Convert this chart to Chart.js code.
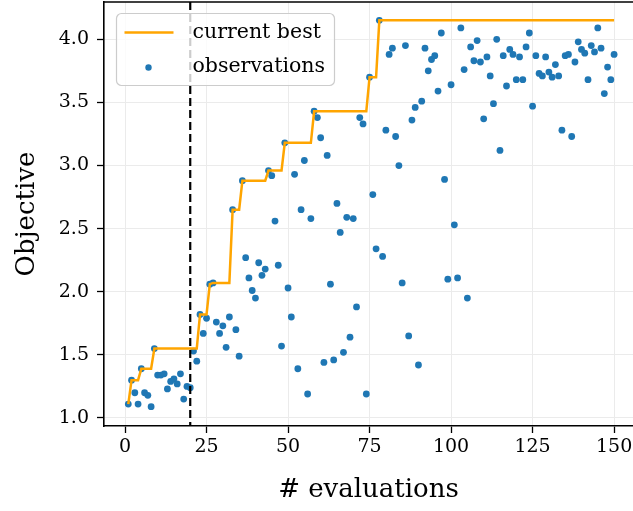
<!DOCTYPE html>
<html>
<head>
<meta charset="utf-8">
<script src="https://cdn.jsdelivr.net/npm/chart.js@4.4.0/dist/chart.umd.min.js"></script>
<style>
html,body{margin:0;padding:0;background:#fff;overflow:hidden}
#wrap{width:633px;height:511px;position:relative}
</style>
</head>
<body>
<div id="wrap"><canvas id="c" width="633" height="511"></canvas></div>
<script>
// ---------------- data ----------------
const evaluations = [
  1,2,3,4,5,6,7,8,9,10,11,12,13,14,15,16,17,18,19,20,
  21,22,23,24,25,26,27,28,29,30,31,32,33,34,35,36,37,38,39,40,
  41,42,43,44,45,46,47,48,49,50,51,52,53,54,55,56,57,58,59,60,
  61,62,63,64,65,66,67,68,69,70,71,72,73,74,75,76,77,78,79,80,
  81,82,83,84,85,86,87,88,89,90,91,92,93,94,95,96,97,98,99,100,
  101,102,103,104,105,106,107,108,109,110,111,112,113,114,115,116,117,118,119,120,
  121,122,123,124,125,126,127,128,129,130,131,132,133,134,135,136,137,138,139,140,
  141,142,143,144,145,146,147,148,149,150
];
const observations = [
  1.11,1.30,1.20,1.11,1.39,1.20,1.18,1.09,1.55,1.34,
  1.34,1.35,1.23,1.29,1.31,1.27,1.35,1.15,1.25,1.24,
  1.53,1.45,1.82,1.67,1.79,2.06,2.07,1.76,1.67,1.73,
  1.56,1.80,2.65,1.70,1.49,2.88,2.27,2.11,2.01,1.95,
  2.23,2.13,2.18,2.96,2.92,2.56,2.21,1.57,3.18,2.03,
  1.80,2.93,1.39,2.65,3.04,1.19,2.58,3.43,3.38,3.22,
  1.44,3.08,2.06,1.46,2.70,2.47,1.52,2.59,1.64,2.58,
  1.88,3.38,3.33,1.19,3.70,2.77,2.34,4.15,2.28,3.28,
  3.88,3.93,3.23,3.00,2.07,3.95,1.65,3.36,3.46,1.42,
  3.51,3.93,3.75,3.84,3.87,3.59,4.05,2.89,2.10,3.64,
  2.53,2.11,4.09,3.76,1.95,3.94,3.83,3.99,3.82,3.37,
  3.86,3.71,3.49,4.00,3.12,3.87,3.63,3.92,3.88,3.68,
  3.86,3.68,3.94,4.05,3.47,3.87,3.73,3.71,3.86,3.74,
  3.70,3.80,3.71,3.28,3.87,3.88,3.23,3.82,3.98,3.92,
  3.89,3.68,3.95,3.90,4.09,3.93,3.57,3.78,3.68,3.88
];
const currentBest = [
  1.11,1.30,1.30,1.30,1.39,1.39,1.39,1.39,1.55,1.55,
  1.55,1.55,1.55,1.55,1.55,1.55,1.55,1.55,1.55,1.55,
  1.55,1.55,1.82,1.82,1.82,2.06,2.07,2.07,2.07,2.07,
  2.07,2.07,2.65,2.65,2.65,2.88,2.88,2.88,2.88,2.88,
  2.88,2.88,2.88,2.96,2.96,2.96,2.96,2.96,3.18,3.18,
  3.18,3.18,3.18,3.18,3.18,3.18,3.18,3.43,3.43,3.43,
  3.43,3.43,3.43,3.43,3.43,3.43,3.43,3.43,3.43,3.43,
  3.43,3.43,3.43,3.43,3.70,3.70,3.70,4.15,4.15,4.15,
  4.15,4.15,4.15,4.15,4.15,4.15,4.15,4.15,4.15,4.15,
  4.15,4.15,4.15,4.15,4.15,4.15,4.15,4.15,4.15,4.15,
  4.15,4.15,4.15,4.15,4.15,4.15,4.15,4.15,4.15,4.15,
  4.15,4.15,4.15,4.15,4.15,4.15,4.15,4.15,4.15,4.15,
  4.15,4.15,4.15,4.15,4.15,4.15,4.15,4.15,4.15,4.15,
  4.15,4.15,4.15,4.15,4.15,4.15,4.15,4.15,4.15,4.15,
  4.15,4.15,4.15,4.15,4.15,4.15,4.15,4.15,4.15,4.15
];
const xTicks = [0, 25, 50, 75, 100, 125, 150];
const yTicks = [1.0, 1.5, 2.0, 2.5, 3.0, 3.5, 4.0];
const initialDesignEnd = 20;
const seriesNames = ['current best', 'observations'];
const xTitle = '# evaluations';
const yTitle = 'Objective';

// ---------------- styling ----------------
const FONT = '"DejaVu Serif", "Liberation Serif", serif';
const ORANGE = '#FFA500';
const BLUE = '#1f77b4';

const bestPts = evaluations.map((e, i) => ({x: e, y: currentBest[i]}));
const obsPts = evaluations.map((e, i) => ({x: e, y: observations[i]}));

const framePlugin = {
  id: 'frameAndExtras',
  afterDatasetsDraw(chart) {
    const {ctx, chartArea: a, scales} = chart;
    ctx.save();
    // dashed vertical line marking end of initial design
    const xv = scales.x.getPixelForValue(initialDesignEnd);
    ctx.beginPath();
    ctx.setLineDash([8, 4]);
    ctx.strokeStyle = '#000';
    ctx.lineWidth = 2.2;
    ctx.moveTo(xv, a.top);
    ctx.lineTo(xv, a.bottom);
    ctx.stroke();
    ctx.setLineDash([]);
    // top frame
    ctx.beginPath();
    ctx.lineWidth = 1.6;
    ctx.moveTo(a.left, a.top);
    ctx.lineTo(a.right, a.top);
    ctx.stroke();

    // legend box
    const x0 = a.left + 12.5, y0 = a.top + 11.5, w = 218, h = 72, r = 5;
    ctx.beginPath();
    ctx.moveTo(x0 + r, y0);
    ctx.lineTo(x0 + w - r, y0);
    ctx.arcTo(x0 + w, y0, x0 + w, y0 + r, r);
    ctx.lineTo(x0 + w, y0 + h - r);
    ctx.arcTo(x0 + w, y0 + h, x0 + w - r, y0 + h, r);
    ctx.lineTo(x0 + r, y0 + h);
    ctx.arcTo(x0, y0 + h, x0, y0 + h - r, r);
    ctx.lineTo(x0, y0 + r);
    ctx.arcTo(x0, y0, x0 + r, y0, r);
    ctx.closePath();
    ctx.fillStyle = 'rgba(255,255,255,0.8)';
    ctx.fill();
    ctx.strokeStyle = '#cccccc';
    ctx.lineWidth = 1.2;
    ctx.stroke();

    const ds = chart.data.datasets;
    // line sample
    ctx.beginPath();
    ctx.strokeStyle = ds[0].borderColor;
    ctx.lineWidth = ds[0].borderWidth;
    ctx.moveTo(x0 + 8, y0 + 19);
    ctx.lineTo(x0 + 57, y0 + 19);
    ctx.stroke();
    // marker sample
    ctx.beginPath();
    ctx.fillStyle = ds[1].backgroundColor;
    ctx.arc(x0 + 32, y0 + 54, 3.2, 0, Math.PI * 2);
    ctx.fill();
    // labels
    ctx.fillStyle = '#000';
    ctx.font = '20.5px ' + FONT;
    ctx.textBaseline = 'middle';
    ctx.textAlign = 'left';
    ctx.fillText(ds[0].label, x0 + 76, y0 + 19);
    ctx.fillText(ds[1].label, x0 + 76, y0 + 53);
    ctx.restore();
  }
};

new Chart(document.getElementById('c'), {
  type: 'scatter',
  data: {
    datasets: [
      {
        type: 'line',
        label: seriesNames[0],
        data: bestPts,
        borderColor: ORANGE,
        backgroundColor: ORANGE,
        borderWidth: 2.5,
        pointRadius: 0,
        tension: 0,
        fill: false
      },
      {
        type: 'scatter',
        label: seriesNames[1],
        data: obsPts,
        backgroundColor: BLUE,
        borderColor: BLUE,
        borderWidth: 0,
        pointRadius: 3.4,
        pointHoverRadius: 3.4
      }
    ]
  },
  options: {
    responsive: false,
    animation: false,
    devicePixelRatio: 1,
    layout: {autoPadding: false, padding: {top: 2, right: 0, bottom: 0, left: 0}},
    plugins: {legend: {display: false}, tooltip: {enabled: false}},
    scales: {
      x: {
        type: 'linear',
        min: -6.45,
        max: 155.8,
        afterBuildTicks: s => { s.ticks = xTicks.map(v => ({value: v})); },
        afterFit: s => { s.height = 85; s.paddingLeft = 0; s.paddingRight = 0; },
        grid: {color: '#ebebeb', lineWidth: 1, tickColor: '#000', tickLength: 7, tickWidth: 1.3},
        border: {color: '#000', width: 1.6},
        ticks: {font: {family: FONT, size: 19}, color: '#000', padding: 3, maxRotation: 0,
                callback: v => String(v)},
        title: {display: true, text: xTitle, color: '#000', font: {family: FONT, size: 26},
                padding: {top: 0, bottom: 5}}
      },
      y: {
        type: 'linear',
        min: 0.9366,
        max: 4.2955,
        afterBuildTicks: s => { s.ticks = yTicks.map(v => ({value: v})); },
        afterFit: s => { s.width = 104; s.paddingTop = 0; s.paddingBottom = 0; },
        grid: {color: '#ebebeb', lineWidth: 1, tickColor: '#000', tickLength: 7, tickWidth: 1.3},
        border: {color: '#000', width: 1.6},
        ticks: {font: {family: FONT, size: 19}, color: '#000', padding: 8,
                callback: v => Number(v).toFixed(1)},
        title: {display: true, text: yTitle, color: '#000', font: {family: FONT, size: 26},
                padding: {top: 12, bottom: 0}}
      }
    }
  },
  plugins: [framePlugin]
});
</script>
</body>
</html>
